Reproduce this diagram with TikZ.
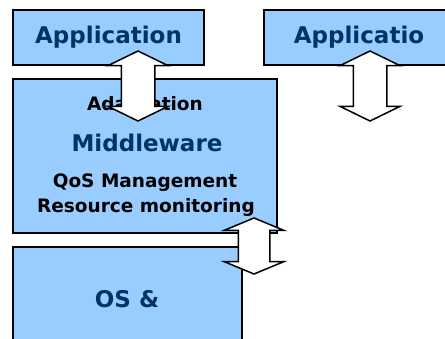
\documentclass[tikz,border=0pt]{standalone}
\usepackage{fontspec}
\setmainfont{DejaVu Sans}
\usetikzlibrary{shapes.arrows, positioning}
\definecolor{boxblue}{HTML}{99CCFF}
\definecolor{textblue}{HTML}{003366}
\tikzset{every picture/.style={line width=1.5pt}}

\begin{document}
\begin{tikzpicture}[x=1pt, y=-1pt,
    layer/.style={draw, fill=boxblue, line width=2pt, inner sep=0pt},
    big/.style={text=textblue, font=\bfseries\fontsize{23}{28}\selectfont},
    small/.style={text=black, font=\bfseries\fontsize{18.5}{22}\selectfont},
    updown/.style={double arrow, draw, fill=white, rotate=90, inner xsep=0pt, inner ysep=16pt,
        minimum width=0pt, double arrow head extend=13pt, double arrow tip angle=128}]
    \useasboundingbox (0,0) rectangle (445,339);
    \clip (0,0) rectangle (445,339);
    % layers
    \node[layer, big, minimum width=191pt, minimum height=55pt] (app1) at (108.5,37.5) {Application};
    \node[layer, big, minimum width=191pt, minimum height=55pt] (app2) at (359,37.5) {Applicatio};
    \node[layer, minimum width=264pt, minimum height=154pt] (mid) at (145,156) {};
    \node[layer, minimum width=229pt, minimum height=154pt] (os) at (127.5,324) {};
    % labels
    \node[small, anchor=base] (adapt) at (145,111) {Adaptation};
    \node[big, anchor=base] (mw) at (147,152) {Middleware};
    \node[small, anchor=base] (qos) at (145,188) {QoS Management};
    \node[small, anchor=base] (res) at (146,213) {Resource monitoring};
    \node[big, anchor=base] (oslbl) at (127,308) {OS \&};
    % arrows
    \node[updown, minimum height=70pt] (ar1) at (138,86) {};
    \node[updown, minimum height=70pt] (ar2) at (370,86) {};
    \node[updown, minimum height=56pt, inner ysep=15pt, double arrow head extend=14pt,
        double arrow tip angle=135] (ar3) at (254,246) {};
\end{tikzpicture}
\end{document}
